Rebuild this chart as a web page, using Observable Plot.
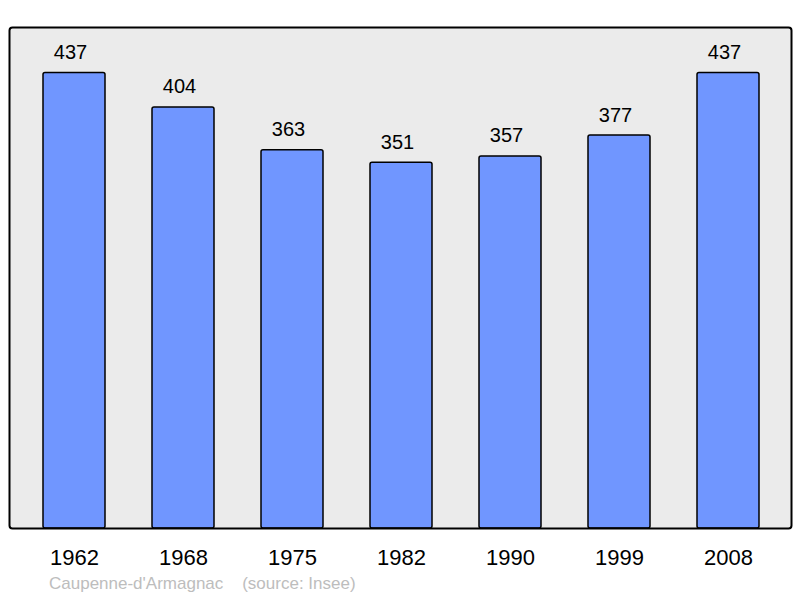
<!DOCTYPE html>
<html>
<head>
<meta charset="utf-8">
<script src="https://cdn.jsdelivr.net/npm/d3@7"></script>
<script src="https://cdn.jsdelivr.net/npm/@observablehq/plot@0.6"></script>
<style>
  html, body { margin: 0; padding: 0; background: #ffffff; }
  #wrap { position: relative; width: 800px; height: 598px; font-family: "Liberation Sans", Arial, sans-serif; }
  #caption { position: absolute; left: 49px; top: 574px; font-size: 17px; color: #bdbdbd; white-space: pre; line-height: 20px; }
</style>
</head>
<body>
<div id="wrap"><div id="caption"></div></div>
<script>
const years = ["1962", "1968", "1975", "1982", "1990", "1999", "2008"];
const population = [437, 404, 363, 351, 357, 377, 437];
const place = "Caupenne-d'Armagnac";
const source = "(source: Insee)";

const data = years.map((y, i) => ({year: y, value: population[i]}));

const chart = Plot.plot({
  width: 800,
  height: 570,
  marginTop: 27,
  marginBottom: 42,
  marginLeft: 9,
  marginRight: 9,
  style: {fontFamily: "Liberation Sans, Arial, sans-serif", background: "#ffffff"},
  x: {domain: years, paddingInner: 0.428, paddingOuter: 0.29, align: 0.515, label: null},
  y: {domain: [0, 480.7], axis: null},
  marks: [
    Plot.frame({fill: "#ebebeb", stroke: "none", rx: 3}),
    Plot.barY(data, {x: "year", y: "value", fill: "#7096ff", stroke: "#000000", strokeWidth: 1.5, rx: 2}),
    Plot.text(data, {x: "year", y: "value", text: d => String(d.value), lineAnchor: "bottom", dy: -14, dx: -4, fontSize: 20, fill: "#000000"}),
    Plot.frame({stroke: "#000000", strokeWidth: 2, rx: 3}),
    Plot.axisX({tickSize: 0, tickPadding: 21, fontSize: 22, color: "#000000", label: null})
  ]
});
document.getElementById("wrap").prepend(chart);
document.getElementById("caption").textContent = place + "    " + source;
</script>
</body>
</html>
